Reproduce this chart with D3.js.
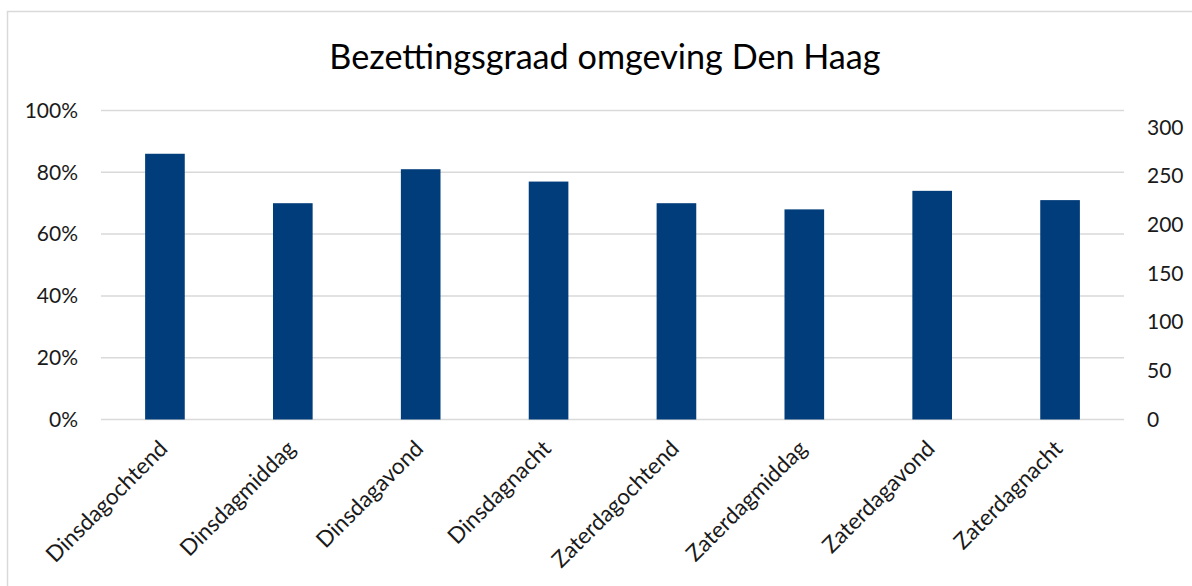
<!DOCTYPE html>
<html>
<head>
<meta charset="utf-8">
<script src="https://cdn.jsdelivr.net/npm/d3@7"></script>
<style>
  body { margin: 0; background: #fff; }
  svg { display: block; font-family: Lato, "Open Sans", sans-serif; }
</style>
</head>
<body>
<svg width="1192" height="586"></svg>
<script>
// Chart data
let categories = [
  "Dinsdagochtend", "Dinsdagmiddag", "Dinsdagavond", "Dinsdagnacht",
  "Zaterdagochtend", "Zaterdagmiddag", "Zaterdagavond", "Zaterdagnacht"
];
let occupancy = [0.86, 0.70, 0.81, 0.77, 0.70, 0.68, 0.74, 0.71];
let leftTicks = [0, 0.2, 0.4, 0.6, 0.8, 1.0];
let rightTicks = [0, 50, 100, 150, 200, 250, 300];
let title = "Bezettingsgraad omgeving Den Haag";

let svg = d3.select("svg");
let width = +svg.attr("width");
let height = +svg.attr("height");

// chart frame (only left and top edges are in view)
svg.append("rect")
  .attr("x", 7.5).attr("y", 11.5)
  .attr("width", width + 20).attr("height", height + 20)
  .attr("fill", "none")
  .attr("stroke", "#d9d9d9")
  .attr("stroke-width", 1.5);

let plot = { left: 101, right: 1124, top: 110.5, bottom: 419.5 };

let x = d3.scaleBand()
  .domain(categories)
  .range([plot.left, plot.right])
  .paddingInner(0.69)
  .paddingOuter(0.345);

let yLeft = d3.scaleLinear().domain([0, 1]).range([plot.bottom, plot.top]);
// secondary axis in the original does not line up with the gridlines
let yRight = d3.scaleLinear().domain([0, 300]).range([plot.bottom, 127.5]);

// gridlines
svg.append("g")
  .selectAll("line")
  .data(leftTicks)
  .enter()
  .append("line")
  .attr("x1", plot.left)
  .attr("x2", plot.right)
  .attr("y1", d => yLeft(d))
  .attr("y2", d => yLeft(d))
  .attr("stroke", "#d9d9d9")
  .attr("stroke-width", 1.5);

// bars
svg.append("g")
  .selectAll("rect")
  .data(occupancy)
  .enter()
  .append("rect")
  .attr("x", (d, i) => x(categories[i]))
  .attr("width", x.bandwidth())
  .attr("y", d => yLeft(d))
  .attr("height", d => yLeft(0) - yLeft(d))
  .attr("fill", "#023d7b");

// left axis
let leftAxis = svg.append("g")
  .attr("transform", "translate(" + (plot.left - 23) + ",0)")
  .call(d3.axisLeft(yLeft).tickValues(leftTicks).tickFormat(d3.format(".0%")).tickSize(0).tickPadding(0));
leftAxis.select(".domain").remove();
leftAxis.selectAll("text")
  .attr("font-family", "Lato, sans-serif")
  .attr("font-size", 21)
  .attr("fill", "#1a1a1a");

// right axis
let rightAxis = svg.append("g")
  .attr("transform", "translate(" + (plot.right + 23) + ",0)")
  .call(d3.axisRight(yRight).tickValues(rightTicks).tickSize(0).tickPadding(0));
rightAxis.select(".domain").remove();
rightAxis.selectAll("text")
  .attr("font-family", "Lato, sans-serif")
  .attr("font-size", 21)
  .attr("fill", "#1a1a1a");

// category labels, rotated
svg.append("g")
  .selectAll("text")
  .data(categories)
  .enter()
  .append("text")
  .attr("transform", d => "translate(" + (x(d) + x.bandwidth() / 2 + 4) + ",450) rotate(-45)")
  .attr("text-anchor", "end")
  .attr("font-size", 22.5)
  .attr("fill", "#1a1a1a")
  .text(d => d);

// title
svg.append("text")
  .attr("x", 605)
  .attr("y", 69)
  .attr("text-anchor", "middle")
  .attr("font-size", 34.2)
  .attr("fill", "#000")
  .text(title);
</script>
</body>
</html>
